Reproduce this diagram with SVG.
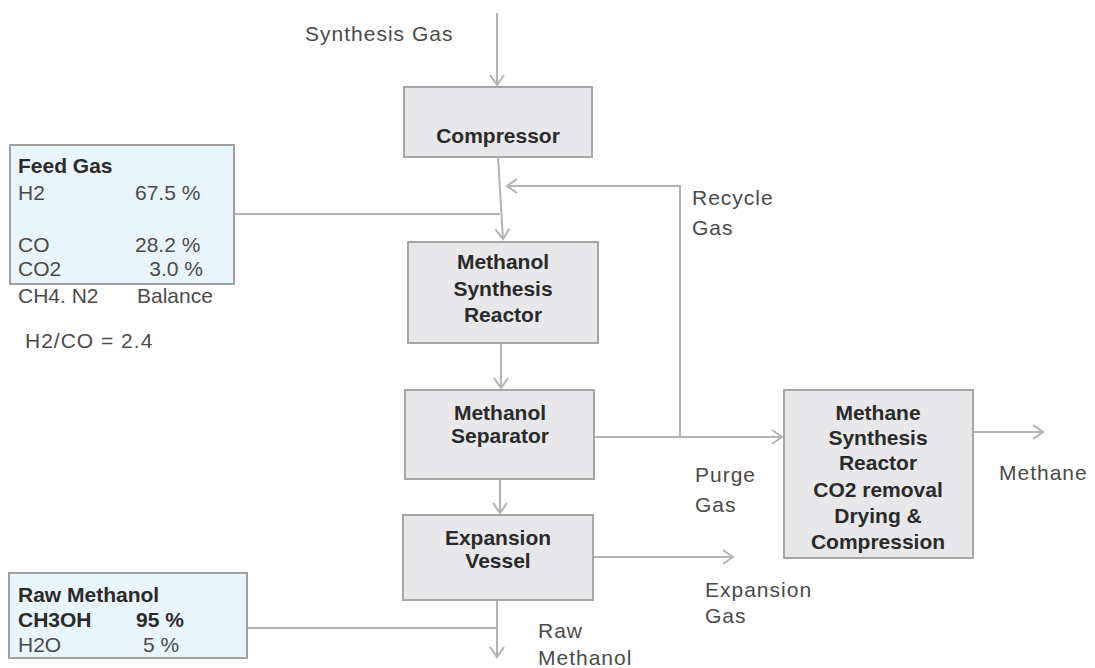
<svg xmlns="http://www.w3.org/2000/svg" width="1095" height="668" viewBox="0 0 1095 668">
<defs>
<style>
.box{fill:#e8e8ea;stroke:#a6a6a6;stroke-width:2}
.info{fill:#e9f5fc;stroke:#a0a0a0;stroke-width:2}
.ln{fill:none;stroke:#b3b3b3;stroke-width:2}
.arr{marker-end:url(#ah)}
.b{font-family:"Liberation Sans",Arial,sans-serif;font-size:21px;font-weight:bold;fill:#2a2a2a}
.bc{font-family:"Liberation Sans",Arial,sans-serif;font-size:21px;font-weight:bold;fill:#2a2a2a;text-anchor:middle}
.t{font-family:"Liberation Sans",Arial,sans-serif;font-size:21px;fill:#4a4a4a}
.l{letter-spacing:1px}
</style>
<marker id="ah" markerUnits="userSpaceOnUse" markerWidth="20" markerHeight="20" viewBox="-12 -10 14 20" refX="0" refY="0" orient="auto">
<path d="M-10,-7 L0,0 L-10,7" fill="none" stroke="#b3b3b3" stroke-width="2"/>
</marker>
</defs>
<rect width="1095" height="668" fill="#ffffff"/>
<g id="connectors">
<line class="ln arr" x1="497" y1="13" x2="497" y2="85"/>
<line class="ln arr" x1="498" y1="157" x2="503" y2="239"/>
<polyline class="ln arr" points="680,437 680,186 507,186"/>
<line class="ln" x1="234" y1="214" x2="500" y2="214"/>
<line class="ln arr" x1="501" y1="343" x2="501" y2="388"/>
<line class="ln arr" x1="500" y1="479" x2="500" y2="513"/>
<line class="ln arr" x1="595" y1="437" x2="782" y2="437"/>
<line class="ln arr" x1="973" y1="432" x2="1043" y2="432"/>
<line class="ln arr" x1="593" y1="557" x2="733" y2="557"/>
<line class="ln arr" x1="497" y1="600" x2="497" y2="657"/>
<line class="ln" x1="247" y1="628" x2="497" y2="628"/>
</g>
<g id="labels">
<text class="t l" x="305" y="41">Synthesis Gas</text>
<text class="t l" x="692" y="205">Recycle</text>
<text class="t l" x="692" y="235">Gas</text>
<text class="t l" x="695" y="482">Purge</text>
<text class="t l" x="695" y="512">Gas</text>
<text class="t l" x="999" y="480">Methane</text>
<text class="t l" x="705" y="597">Expansion</text>
<text class="t l" x="705" y="623">Gas</text>
<text class="t l" x="538" y="638">Raw</text>
<text class="t l" x="538" y="665">Methanol</text>
<text class="t l" x="25" y="348">H2/CO = 2.4</text>
</g>
<g id="compressor">
<rect class="box" x="404" y="87" width="188" height="70"/>
<text class="bc" x="498" y="143">Compressor</text>
</g>
<g id="reactor">
<rect class="box" x="408" y="242" width="190" height="101"/>
<text class="bc" x="503" y="269">Methanol</text>
<text class="bc" x="503" y="296">Synthesis</text>
<text class="bc" x="503" y="322">Reactor</text>
</g>
<g id="separator">
<rect class="box" x="405" y="390" width="189" height="89"/>
<text class="bc" x="500" y="420">Methanol</text>
<text class="bc" x="500" y="443">Separator</text>
</g>
<g id="expansion">
<rect class="box" x="403" y="515" width="190" height="85"/>
<text class="bc" x="498" y="545">Expansion</text>
<text class="bc" x="498" y="568">Vessel</text>
</g>
<g id="methane">
<rect class="box" x="784" y="390" width="189" height="168"/>
<text class="bc" x="878" y="420">Methane</text>
<text class="bc" x="878" y="445">Synthesis</text>
<text class="bc" x="878" y="470">Reactor</text>
<text class="bc" x="878" y="497">CO2 removal</text>
<text class="bc" x="878" y="523">Drying &amp;</text>
<text class="bc" x="878" y="549">Compression</text>
</g>
<g id="feedgas">
<rect class="info" x="10" y="145" width="224" height="139"/>
<text class="b" x="18" y="173">Feed Gas</text>
<text class="t" x="18" y="200">H2</text>
<text class="t" x="135" y="200">67.5 %</text>
<text class="t" x="18" y="252">CO</text>
<text class="t" x="135" y="252">28.2 %</text>
<text class="t" x="18" y="276">CO2</text>
<text class="t" x="203" y="276" text-anchor="end">3.0 %</text>
<text class="t" x="18" y="303">CH4. N2</text>
<text class="t" x="137" y="303">Balance</text>
</g>
<g id="rawmethanol">
<rect class="info" x="9" y="573" width="238" height="85"/>
<text class="b" x="18" y="602">Raw Methanol</text>
<text class="b" x="18" y="627">CH3OH</text>
<text class="b" x="136" y="627">95 %</text>
<text class="t" x="18" y="652">H2O</text>
<text class="t" x="143" y="652">5 %</text>
</g>
</svg>
